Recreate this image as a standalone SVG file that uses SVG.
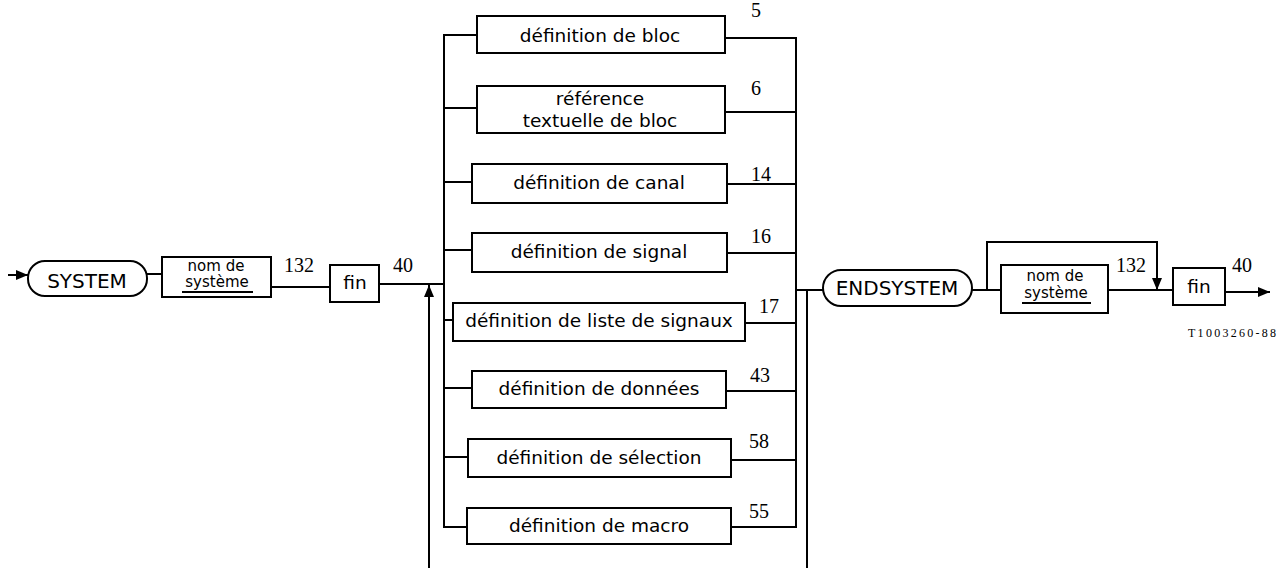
<svg xmlns="http://www.w3.org/2000/svg" width="1279" height="568" viewBox="0 0 1279 568">
<defs>
<marker id="arr" markerUnits="userSpaceOnUse" markerWidth="13" markerHeight="10" refX="12" refY="5" orient="auto">
<path d="M0,0 L12,5 L0,10 z" fill="#000"/>
</marker>
</defs>
<style>
.b{fill:#fff;stroke:#000;stroke-width:2}
.l{fill:none;stroke:#000;stroke-width:2}
.t{font-family:"DejaVu Sans",sans-serif;font-size:18.5px;text-anchor:middle;fill:#000}
.s{font-family:"DejaVu Sans",sans-serif;font-size:15px;text-anchor:middle;fill:#000}
.k{font-family:"DejaVu Sans",sans-serif;font-size:20px;text-anchor:middle;fill:#000}
.n{font-family:"Liberation Serif",serif;font-size:20px;text-anchor:middle;fill:#000}
</style>
<rect width="1279" height="568" fill="#fff"/>
<g id="connectors">
<line class="l" x1="8" y1="275" x2="28" y2="275" marker-end="url(#arr)"/>
<line class="l" x1="147" y1="274" x2="162" y2="274"/>
<line class="l" x1="271" y1="287" x2="330" y2="287"/>
<line class="l" x1="379" y1="284" x2="443" y2="284"/>
<line class="l" x1="429" y1="568" x2="429" y2="285" marker-end="url(#arr)"/>
<path class="l" d="M477,35 H444 V527 H467"/>
<line class="l" x1="444" y1="108" x2="477" y2="108"/>
<line class="l" x1="444" y1="182" x2="472" y2="182"/>
<line class="l" x1="444" y1="250" x2="472" y2="250"/>
<line class="l" x1="444" y1="320" x2="453" y2="320"/>
<line class="l" x1="444" y1="388" x2="472" y2="388"/>
<line class="l" x1="444" y1="457" x2="468" y2="457"/>
<path class="l" d="M725,38 H796 V527 H731"/>
<line class="l" x1="725" y1="112" x2="796" y2="112"/>
<line class="l" x1="727" y1="184" x2="796" y2="184"/>
<line class="l" x1="727" y1="253" x2="796" y2="253"/>
<line class="l" x1="745" y1="323" x2="796" y2="323"/>
<line class="l" x1="726" y1="391" x2="796" y2="391"/>
<line class="l" x1="731" y1="460" x2="796" y2="460"/>
<line class="l" x1="796" y1="290" x2="823" y2="290"/>
<line class="l" x1="807" y1="290" x2="807" y2="568"/>
<line class="l" x1="972" y1="290" x2="1001" y2="290"/>
<path class="l" d="M987,290 V242 H1157 V290" marker-end="url(#arr)"/>
<line class="l" x1="1108" y1="290" x2="1173" y2="290"/>
<line class="l" x1="1225" y1="292" x2="1270" y2="292" marker-end="url(#arr)"/>
<text class="n" x="299" y="272">132</text>
<text class="n" x="403" y="272">40</text>
<text class="n" x="756" y="17">5</text>
<text class="n" x="756" y="95">6</text>
<text class="n" x="761" y="181">14</text>
<text class="n" x="761" y="243">16</text>
<text class="n" x="769" y="313">17</text>
<text class="n" x="760" y="382">43</text>
<text class="n" x="759" y="448">58</text>
<text class="n" x="759" y="518">55</text>
<text class="n" x="1131" y="272">132</text>
<text class="n" x="1242" y="272">40</text>
</g>
<g id="system">
<rect class="b" x="28" y="261" width="119" height="35" rx="17"/>
<text class="k" x="87" y="288">SYSTEM</text>
</g>
<g id="nom1">
<rect class="b" x="162" y="257" width="109" height="40"/>
<text class="s" x="216" y="271">nom de</text>
<text class="s" x="217" y="287">système</text>
<line class="l" x1="182" y1="292" x2="253" y2="292"/>
</g>
<g id="fin1">
<rect class="b" x="330" y="265" width="49" height="37"/>
<text class="t" x="355" y="289">fin</text>
</g>
<g id="def-bloc">
<rect class="b" x="477" y="16" width="248" height="37"/>
<text class="t" x="600" y="42">définition de bloc</text>
</g>
<g id="ref-bloc">
<rect class="b" x="477" y="86" width="248" height="47"/>
<text class="t" x="600" y="105">référence</text>
<text class="t" x="600" y="127">textuelle de bloc</text>
</g>
<g id="def-canal">
<rect class="b" x="472" y="164" width="255" height="39"/>
<text class="t" x="599" y="189">définition de canal</text>
</g>
<g id="def-signal">
<rect class="b" x="472" y="233" width="255" height="39"/>
<text class="t" x="599" y="258">définition de signal</text>
</g>
<g id="def-liste">
<rect class="b" x="453" y="303" width="292" height="38"/>
<text class="t" x="599" y="327">définition de liste de signaux</text>
</g>
<g id="def-donnees">
<rect class="b" x="472" y="371" width="254" height="37"/>
<text class="t" x="599" y="395">définition de données</text>
</g>
<g id="def-selection">
<rect class="b" x="468" y="439" width="263" height="38"/>
<text class="t" x="599" y="464">définition de sélection</text>
</g>
<g id="def-macro">
<rect class="b" x="467" y="508" width="264" height="36"/>
<text class="t" x="599" y="532">définition de macro</text>
</g>
<g id="endsystem">
<rect class="b" x="823" y="270" width="149" height="36" rx="18"/>
<text class="k" x="897" y="295">ENDSYSTEM</text>
</g>
<g id="nom2">
<rect class="b" x="1001" y="265" width="107" height="48"/>
<text class="s" x="1055" y="281">nom de</text>
<text class="s" x="1056" y="298">système</text>
<line class="l" x1="1022" y1="303" x2="1091" y2="303"/>
</g>
<g id="fin2">
<rect class="b" x="1173" y="268" width="52" height="37"/>
<text class="t" x="1199" y="293">fin</text>
</g>
<text x="1188" y="337" font-family="Liberation Serif, serif" font-size="12" textLength="88" lengthAdjust="spacing">T1003260-88</text>
</svg>
